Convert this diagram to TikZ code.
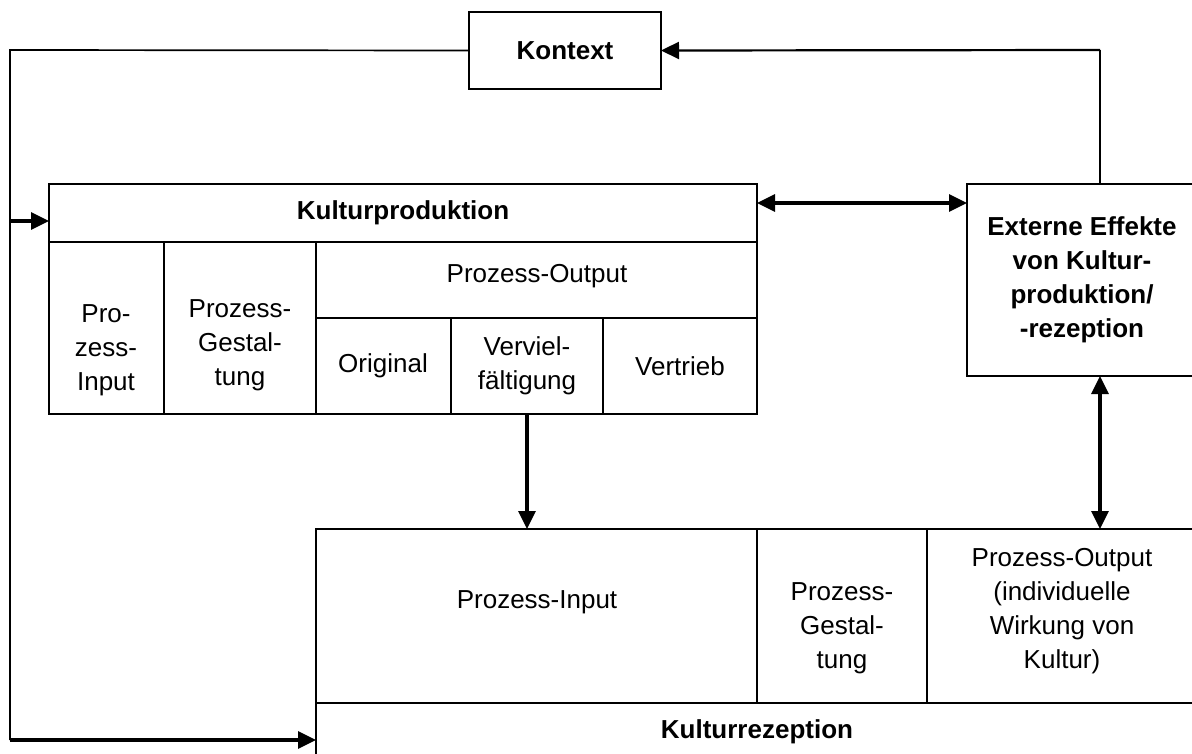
\documentclass[tikz,border=0pt]{standalone}
\usepackage{fontspec}
\setmainfont{Liberation Sans}
\usetikzlibrary{arrows.meta}
\begin{document}
\begin{tikzpicture}[x=1pt,y=-1pt,
  box/.style={draw, line width=2pt, inner sep=0pt, outer sep=0pt, anchor=north west},
  txt/.style={align=center, font=\fontsize{26}{34}\selectfont, inner sep=0pt},
  btxt/.style={align=center, font=\fontsize{26}{34}\selectfont\bfseries, inner sep=0pt},
  conn/.style={line width=1.7pt},
  arr/.style={line width=3.2pt, -{Triangle[length=18pt,width=17pt]}},
  darr/.style={line width=3.2pt, {Triangle[length=18pt,width=17pt]}-{Triangle[length=18pt,width=17pt]}},
]
\useasboundingbox (0,0) rectangle (1192,753);
\begin{scope}
\clip (0,0) rectangle (1192,753);
% Kontext
\node[box, minimum width=192pt, minimum height=77pt, font=\fontsize{26}{34}\selectfont\bfseries] (kontext) at (469,12) {Kontext};
% Kulturproduktion
\node[box, minimum width=708pt, minimum height=58pt, font=\fontsize{26}{34}\selectfont\bfseries] (kphead) at (49,184) {Kulturproduktion};
\node[box, minimum width=115pt, minimum height=172pt] (kpin) at (49,242) {};
\node[box, minimum width=152pt, minimum height=172pt] (kpgest) at (164,242) {};
\node[box, minimum width=441pt, minimum height=76pt] (kpout) at (316,242) {};
\node[box, minimum width=135pt, minimum height=96pt] (kporig) at (316,318) {};
\node[box, minimum width=152pt, minimum height=96pt] (kpverv) at (451,318) {};
\node[box, minimum width=154pt, minimum height=96pt] (kpvert) at (603,318) {};
\node[txt] (kpin-t) at (106,350) {Pro-\\zess-\\Input};
\node[txt] (kpgest-t) at (240,345) {Prozess-\\Gestal-\\tung};
\node[txt] (kpout-t) at (537,276) {Prozess-Output};
\node[txt] (kporig-t) at (383,366) {Original};
\node[txt] (kpverv-t) at (527,366) {Verviel-\\fältigung};
\node[txt] (kpvert-t) at (680,366) {Vertrieb};
% Externe Effekte
\node[box, minimum width=231pt, minimum height=192pt] (externe) at (967,184) {};
\node[btxt] (externe-t) at (1082,280) {Externe Effekte\\von Kultur-\\produktion/\\-rezeption};
% Kulturrezeption
\node[box, minimum width=441pt, minimum height=174pt] (krin) at (316,529) {};
\node[box, minimum width=170pt, minimum height=174pt] (krgest) at (757,529) {};
\node[box, minimum width=271pt, minimum height=174pt] (krout) at (927,529) {};
\node[box, minimum width=882pt, minimum height=58pt] (krhead) at (316,703) {};
\node[txt] (krin-t) at (537,602) {Prozess-Input};
\node[txt] (krgest-t) at (842,628) {Prozess-\\Gestal-\\tung};
\node[txt] (krout-t) at (1062,611) {Prozess-Output\\(individuelle\\Wirkung von\\Kultur)};
\node[btxt] (krhead-t) at (757,732) {Kulturrezeption};
% connectors
\coordinate (ltop) at (10,50);
\coordinate (lmid) at (10,221);
\coordinate (lbot) at (10,740);
\coordinate (rtop) at (1100,50);
\coordinate (hmid) at (860,203);
\draw[conn] (kontext.west) -- (ltop) -- (lbot);
\draw[arr] (lbot) -- (krhead.west |- lbot);
\draw[arr] (lmid) -- (kphead.west |- lmid);
\draw[conn] (rtop |- externe.north) -- (rtop);
\draw[arr, line width=2.2pt] (rtop) -- (kontext.east);
\draw[darr] (hmid -| kphead.east) -- (hmid -| externe.west);
\draw[arr] (kpverv.south) -- (kpverv.south |- krin.north);
\draw[darr] (rtop |- externe.south) -- (rtop |- krout.north);
\end{scope}
\end{tikzpicture}
\end{document}
